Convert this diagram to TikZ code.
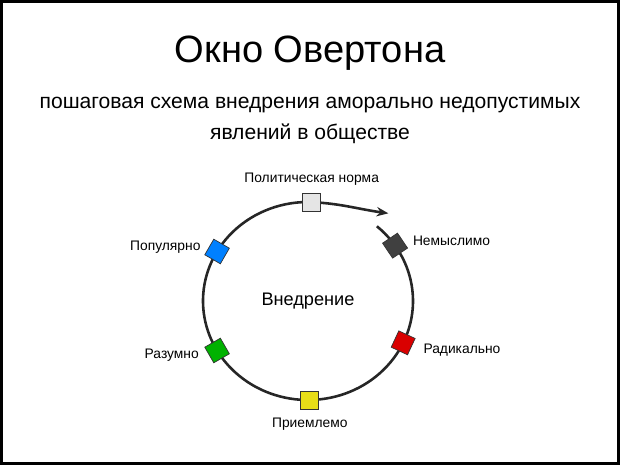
\documentclass[tikz,border=0pt]{standalone}
\usepackage{fontspec}
\setmainfont{Liberation Sans}
\usetikzlibrary{positioning,arrows.meta}

\begin{document}
\begin{tikzpicture}[line width = 2.2pt,
  sq/.style = {draw = black!80, line width = 0.6pt, minimum size = 0.54cm, inner sep = 0pt},
  lbl/.style = {font = \fontsize{11.8}{14}\selectfont}]
\useasboundingbox (0,0) rectangle (18.6,13.95);
\draw[line width = 2.5pt] (0.05,0.05) rectangle (18.55,13.9);
\node (title) at (9.3,12.35) {\fontsize{32.5}{38}\selectfont Окно Овертона};
\node (sub1) at (9.3,10.8) {\fontsize{18}{21}\selectfont пошаговая схема внедрения аморально недопустимых};
\node (sub2) at (9.3,9.95) {\fontsize{18}{21}\selectfont явлений в обществе};
\coordinate (c) at (9.24,4.92);
\node (center) at (c) {\fontsize{15.5}{18}\selectfont Внедрение};
% loop
\draw[black!85] (c) ++(49:3.15 and 2.97) coordinate (start)
    arc[start angle = 49, end angle = -270, x radius = 3.15, y radius = 2.97] coordinate (top);
\coordinate (tip) at (11.65,7.55);
\draw[black!85, -{Stealth[length = 10pt, width = 8pt]}] (top) to[out = -2, in = 172] (tip);
% squares
\path (c) ++(88:3.15 and 2.97) node[sq, fill = gray!20] (a1) {};
\path (c) ++(34:3.15 and 2.97) node[sq, fill = black!75, rotate = 34] (a2) {};
\path (c) ++(-25:3.15 and 2.97) node[sq, fill = red!85!black, rotate = -25] (a3) {};
\path (c) ++(-89:3.15 and 2.97) node[sq, fill = yellow!90!black] (a4) {};
\path (c) ++(210:3.15 and 2.97) node[sq, fill = green!70!black, rotate = 30] (a5) {};
\path (c) ++(150:3.15 and 2.97) node[sq, fill = blue!50!cyan, rotate = -30] (a6) {};
\node[lbl, above = 0.05cm of a1] (l1) {Политическая норма};
\node[lbl, right = 0.15cm of a2] (l2) {Немыслимо};
\node[lbl, right = 0.2cm of a3, yshift = -0.1cm] (l3) {Радикально};
\node[lbl, below = 0.1cm of a4] (l4) {Приемлемо};
\node[lbl, left = 0.15cm of a5] (l5) {Разумно};
\node[lbl, left = 0.1cm of a6] (l6) {Популярно};
\end{tikzpicture}
\end{document}
